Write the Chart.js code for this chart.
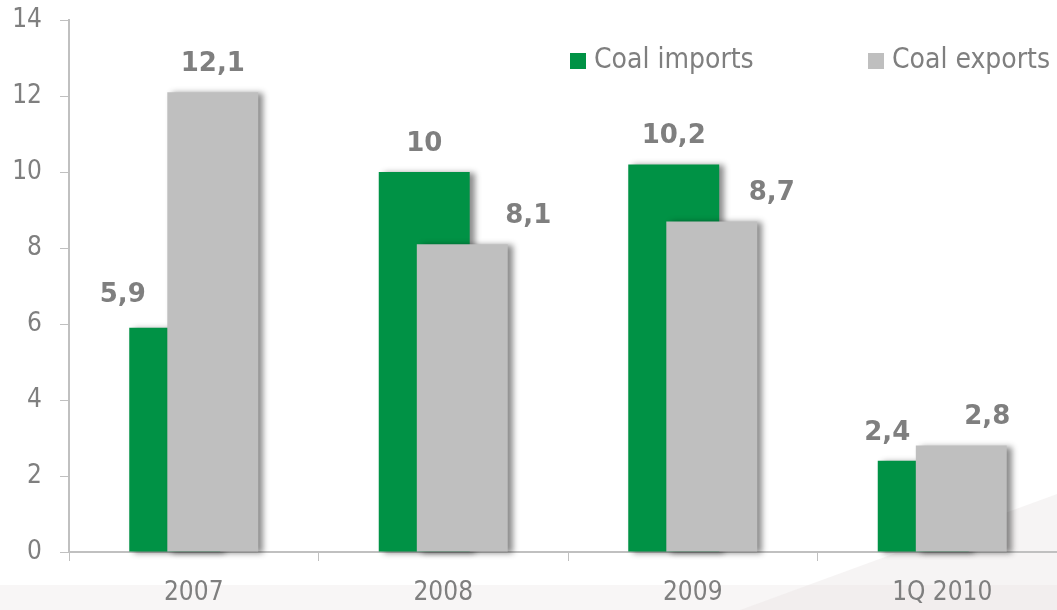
<!DOCTYPE html>
<html>
<head>
<meta charset="utf-8">
<title>Coal imports and exports</title>
<script src="https://cdn.jsdelivr.net/npm/chart.js@4"></script>
<style>
  html, body { margin: 0; padding: 0; background: #fff; overflow: hidden; }
  #wrap { width: 1068px; height: 610px; }
</style>
</head>
<body>
<div id="wrap"><canvas id="coalChart" width="1068" height="610"></canvas></div>
<script>
const periods = ["2007", "2008", "2009", "1Q 2010"];
const coalImports = [5.9, 10, 10.2, 2.4];
const coalExports = [12.1, 8.1, 8.7, 2.8];
const yTicks = [0, 2, 4, 6, 8, 10, 12, 14];

const GREEN = "#009245";
const GREY = "#bfbfbf";
const TEXT = "#7f7f7f";
const AXIS = "#c0c0c0";
const FONT = "'DejaVu Sans Condensed', 'DejaVu Sans', sans-serif";

// labels that sit beside a taller neighbour are moved sideways
const labelNudge = {
  "0-0": [-52, -5],
  "0-3": [-36, 0],
  "1-1": [66, 0],
  "1-2": [60, 0],
  "1-3": [26, 0],
};

const fmt = (v) => String(v).replace(".", ",");

// faint slide watermark in the lower right corner
const backdrop = {
  id: "backdrop",
  beforeDraw(chart) {
    const ctx = chart.ctx;
    ctx.save();
    ctx.fillStyle = "rgba(236,230,230,0.45)";
    ctx.beginPath();
    ctx.moveTo(740, 610);
    ctx.lineTo(1068, 490);
    ctx.lineTo(1068, 610);
    ctx.closePath();
    ctx.fill();
    ctx.fillStyle = "rgba(236,230,230,0.35)";
    ctx.fillRect(0, 585, 1068, 25);
    ctx.restore();
  },
};

// bars with a soft drop shadow, exports painted over imports
const barShadow = {
  id: "barShadow",
  beforeDatasetsDraw(chart) {
    const ctx = chart.ctx;
    ctx.save();
    ctx.shadowColor = "rgba(0,0,0,0.45)";
    ctx.shadowBlur = 6;
    ctx.shadowOffsetX = 5;
    ctx.shadowOffsetY = 1;
    chart.getSortedVisibleDatasetMetas().forEach((meta) => meta.controller.draw());
    ctx.restore();
    return false;
  },
};

// value labels + legend inside the plot
const labelsAndLegend = {
  id: "labelsAndLegend",
  afterDraw(chart) {
    const ctx = chart.ctx;
    ctx.save();
    ctx.font = "bold 26px 'DejaVu Sans', sans-serif";
    ctx.fillStyle = TEXT;
    ctx.textAlign = "center";
    ctx.textBaseline = "middle";
    chart.data.datasets.forEach((ds, di) => {
      chart.getDatasetMeta(di).data.forEach((bar, i) => {
        const n = labelNudge[di + "-" + i] || [0, 0];
        ctx.fillText(fmt(ds.data[i]), bar.x + n[0], bar.y - 28 + n[1]);
      });
    });

    const items = [570, 868];
    ctx.font = "28px " + FONT;
    ctx.textAlign = "left";
    chart.data.datasets.forEach((ds, di) => {
      const x = items[di];
      ctx.fillStyle = ds.backgroundColor;
      ctx.fillRect(x, 53, 16, 16);
      ctx.fillStyle = TEXT;
      ctx.fillText(ds.label, x + 24, 61);
    });
    ctx.restore();
  },
};

new Chart(document.getElementById("coalChart"), {
  type: "bar",
  data: {
    labels: periods,
    datasets: [
      {
        label: "Coal imports",
        data: coalImports,
        backgroundColor: GREEN,
        categoryPercentage: 0.305,
        barPercentage: 2.39,
      },
      {
        label: "Coal exports",
        data: coalExports,
        backgroundColor: GREY,
        categoryPercentage: 0.305,
        barPercentage: 2.39,
      },
    ],
  },
  options: {
    responsive: false,
    animation: false,
    layout: { padding: { top: 20, right: 1, left: 0, bottom: 0 } },
    plugins: {
      legend: { display: false },
      tooltip: { enabled: false },
    },
    scales: {
      x: {
        grid: {
          offset: true,
          drawOnChartArea: false,
          drawTicks: true,
          tickLength: 9,
          color: AXIS,
          lineWidth: 1,
        },
        border: { color: AXIS, width: 2 },
        ticks: { color: TEXT, font: { family: FONT, size: 26 }, padding: 17 },
        afterFit(scale) {
          scale.height = 58;
          scale.paddingLeft = 0;
          scale.paddingRight = 0;
        },
      },
      y: {
        min: yTicks[0],
        max: yTicks[yTicks.length - 1],
        grid: {
          drawOnChartArea: false,
          drawTicks: true,
          tickLength: 9,
          color: AXIS,
          lineWidth: 1,
        },
        border: { color: AXIS, width: 2 },
        ticks: {
          stepSize: yTicks[1] - yTicks[0],
          color: TEXT,
          font: { family: FONT, size: 26 },
          padding: 18,
        },
        afterFit(scale) {
          scale.width = 69;
          scale.paddingTop = 0;
          scale.paddingBottom = 0;
        },
      },
    },
  },
  plugins: [backdrop, barShadow, labelsAndLegend],
});
</script>
</body>
</html>
